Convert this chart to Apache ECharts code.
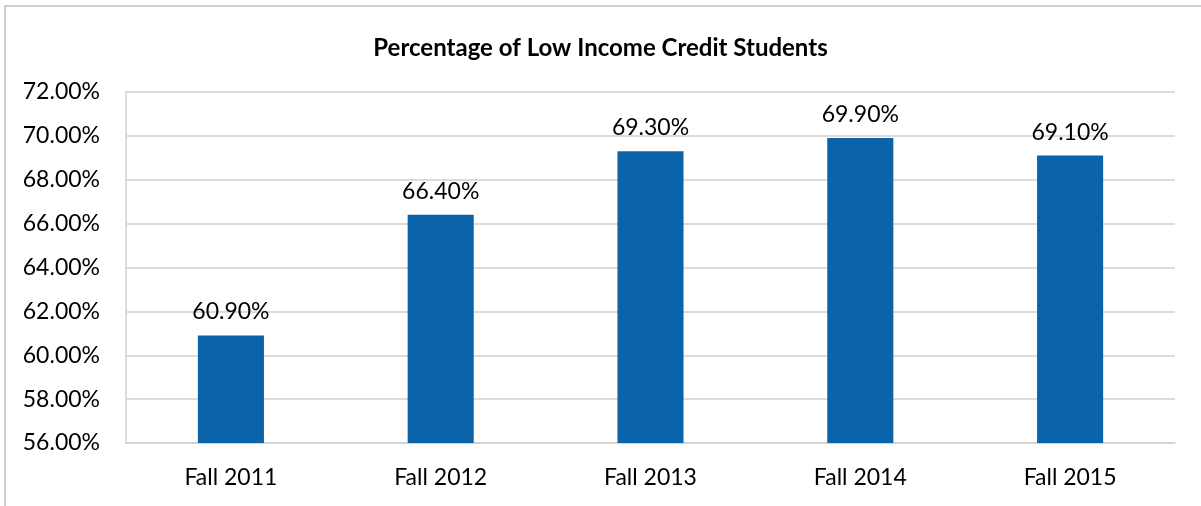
<!doctype html>
<html>
  <head>
    <meta charset="utf-8">
    <script src="https://cdn.jsdelivr.net/npm/echarts@6/dist/echarts.min.js"></script>
    <style>
      html, body { margin: 0; padding: 0; background: #fff; }
      #frame { position: absolute; left: 4px; top: 5px; width: 1210px; height: 520px; border: 2px solid #d0d0d0; box-sizing: border-box; }
      #main { position: absolute; left: 0; top: 0; width: 1201px; height: 506px; }
    </style>
  </head>
  <body>
    <div id="frame"></div>
    <div id="main"></div>
  </body>
  <script>
   var categories = ['Fall 2011', 'Fall 2012', 'Fall 2013', 'Fall 2014', 'Fall 2015'];
   var values = [60.9, 66.4, 69.3, 69.9, 69.1];
   var chartTitle = 'Percentage of Low Income Credit Students';

   var font = 'Lato, "Open Sans", sans-serif';
   var chart = echarts.init(document.getElementById('main'));
   var option = {
     animation: false,
     title: {
       text: chartTitle,
       left: 'center',
       top: 31,
       textStyle: { fontFamily: font, fontSize: 24, fontWeight: 'bold', color: '#000' }
     },
     grid: { left: 126, right: 26, top: 92, bottom: 63, containLabel: false },
     xAxis: {
       type: 'category',
       data: categories,
       axisLine: { show: true, lineStyle: { color: '#d0d0d0', width: 1.5 } },
       axisTick: { show: false },
       axisLabel: { fontFamily: font, fontSize: 23, color: '#000', margin: 23 }
     },
     yAxis: {
       type: 'value',
       min: 56,
       max: 72,
       interval: 2,
       axisLine: { show: true, lineStyle: { color: '#d0d0d0', width: 1.5 } },
       axisTick: { show: false },
       splitLine: { lineStyle: { color: '#d0d0d0', width: 1.5 } },
       axisLabel: {
         fontFamily: font, fontSize: 23, color: '#000', margin: 26,
         formatter: function (v) { return v.toFixed(2) + '%'; }
       }
     },
     series: [{
       type: 'bar',
       data: values,
       barWidth: '31.5%',
       itemStyle: { color: '#0B64A9' },
       label: {
         show: true,
         position: 'top',
         distance: 12,
         fontFamily: font,
         fontSize: 23,
         color: '#000',
         formatter: function (p) { return p.value.toFixed(2) + '%'; }
       }
     }]
   };
   chart.setOption(option);
  </script>
</html>
